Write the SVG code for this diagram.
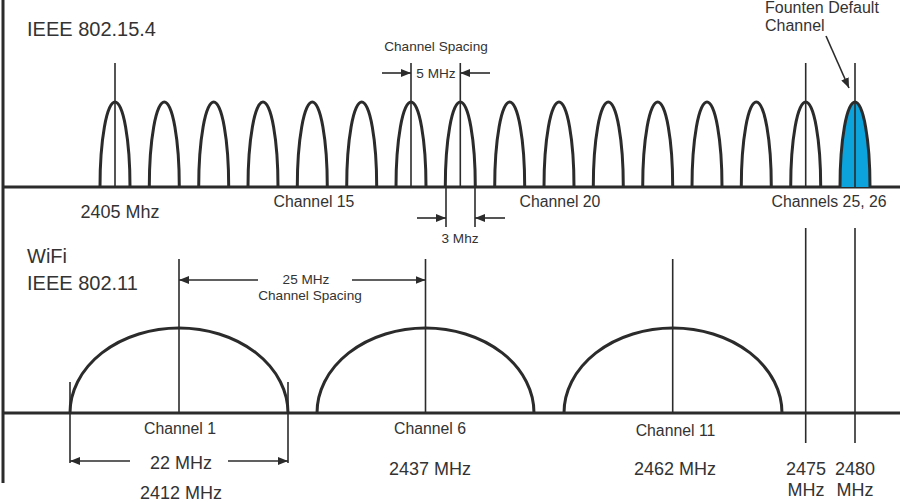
<svg xmlns="http://www.w3.org/2000/svg" width="900" height="502" viewBox="0 0 900 502">
<style>
text{font-family:"Liberation Sans",Arial,sans-serif;fill:#333;}
.big{font-size:20px;}
.freq{font-size:18px;text-anchor:middle;}
.ch{font-size:15.8px;text-anchor:middle;}
.sm{font-size:13.6px;text-anchor:middle;}
.axis{stroke:#2b2b2b;stroke-width:3;fill:none;}
.lobe{stroke:#2b2b2b;stroke-width:3;fill:none;}
.thin{stroke:#2b2b2b;stroke-width:1.6;fill:none;}
.arr{stroke:#2b2b2b;stroke-width:1.6;fill:none;marker-end:url(#ah);}
</style>
<defs>
<marker id="ah" markerUnits="userSpaceOnUse" markerWidth="10" markerHeight="8" refX="10" refY="4" orient="auto">
<path d="M0,0 L10,4 L0,8 z" fill="#2b2b2b"/>
</marker>
</defs>
<rect width="900" height="502" fill="#fff"/>
<g id="axes">
<line class="axis" x1="3" y1="0" x2="3" y2="483"/>
<line class="axis" x1="3" y1="187" x2="900" y2="187"/>
<line class="axis" x1="3" y1="413" x2="900" y2="413"/>
</g>
<g id="labels-top">
<text class="big" x="27" y="36">IEEE 802.15.4</text>
<text class="freq" x="120" y="218">2405 Mhz</text>
<text class="ch" x="314" y="207">Channel 15</text>
<text class="ch" x="560" y="207">Channel 20</text>
<text class="ch" x="829" y="207">Channels 25, 26</text>
</g>
<g id="ch11"><path class="lobe" d="M100,187 A15,85 0 0 1 130,187"/><line class="thin" x1="115" y1="63" x2="115" y2="187"/></g>
<g id="ch12"><path class="lobe" d="M149.3,187 A15,85 0 0 1 179.3,187"/></g>
<g id="ch13"><path class="lobe" d="M198.7,187 A15,85 0 0 1 228.7,187"/></g>
<g id="ch14"><path class="lobe" d="M248,187 A15,85 0 0 1 278,187"/></g>
<g id="ch15"><path class="lobe" d="M297.3,187 A15,85 0 0 1 327.3,187"/></g>
<g id="ch16"><path class="lobe" d="M346.7,187 A15,85 0 0 1 376.7,187"/></g>
<g id="ch17"><path class="lobe" d="M396,187 A15,85 0 0 1 426,187"/><line class="thin" x1="411" y1="63" x2="411" y2="187"/></g>
<g id="ch18"><path class="lobe" d="M445.3,187 A15,85 0 0 1 475.3,187"/><line class="thin" x1="460.3" y1="63" x2="460.3" y2="187"/></g>
<g id="ch19"><path class="lobe" d="M494.7,187 A15,85 0 0 1 524.7,187"/></g>
<g id="ch20"><path class="lobe" d="M544,187 A15,85 0 0 1 574,187"/></g>
<g id="ch21"><path class="lobe" d="M593.3,187 A15,85 0 0 1 623.3,187"/></g>
<g id="ch22"><path class="lobe" d="M642.7,187 A15,85 0 0 1 672.7,187"/></g>
<g id="ch23"><path class="lobe" d="M692,187 A15,85 0 0 1 722,187"/></g>
<g id="ch24"><path class="lobe" d="M741.3,187 A15,85 0 0 1 771.3,187"/></g>
<g id="ch25"><path class="lobe" d="M790.7,187 A15,85 0 0 1 820.7,187"/><line class="thin" x1="805.7" y1="63" x2="805.7" y2="187"/></g>
<g id="ch26"><path class="lobe" style="fill:#0ca3dc" d="M840,187 A15,85 0 0 1 870,187"/><line class="thin" x1="855" y1="63" x2="855" y2="187"/></g>
<g id="default-label">
<text x="765" y="13" style="font-size:16px">Founten Default</text>
<text x="765" y="31" style="font-size:16px">Channel</text>
</g>
<g id="spacing-5">
<text class="sm" x="436" y="51">Channel Spacing</text>
<text class="sm" x="436" y="78">5 MHz</text>
</g>
<g id="spacing-3">
<line class="thin" x1="446" y1="187" x2="446" y2="227"/>
<line class="thin" x1="475" y1="187" x2="475" y2="227"/>
<text class="sm" x="460" y="243">3 Mhz</text>
</g>
<g id="wifi-labels">
<text class="big" x="27" y="263">WiFi</text>
<text class="big" x="27" y="290">IEEE 802.11</text>
<text class="sm" x="306" y="284">25 MHz</text>
<text class="sm" x="310" y="300">Channel Spacing</text>
</g>
<g id="wifi1">
<path class="lobe" d="M70,413 A109,85 0 0 1 288,413"/>
<line class="thin" x1="179" y1="259" x2="179" y2="413"/>
<line class="thin" x1="70" y1="382" x2="70" y2="463"/>
<line class="thin" x1="288" y1="382" x2="288" y2="463"/>
<text class="ch" x="180" y="434">Channel 1</text>
<text class="freq" x="181" y="469">22 MHz</text>
<text class="freq" x="181" y="499">2412 MHz</text>
</g>
<g id="wifi6">
<path class="lobe" d="M317,413 A108.5,85 0 0 1 534,413"/>
<line class="thin" x1="425.5" y1="259" x2="425.5" y2="413"/>
<text class="ch" x="430" y="434">Channel 6</text>
<text class="freq" x="430" y="475">2437 MHz</text>
</g>
<g id="wifi11">
<path class="lobe" d="M564,413 A109,85 0 0 1 782,413"/>
<line class="thin" x1="672.7" y1="259" x2="672.7" y2="413"/>
<text class="ch" x="675.5" y="436">Channel 11</text>
<text class="freq" x="675" y="475">2462 MHz</text>
</g>
<g id="f2475">
<line class="thin" x1="805.7" y1="228" x2="805.7" y2="443"/>
<text class="freq" x="806" y="475">2475</text>
<text class="freq" x="806" y="496">MHz</text>
</g>
<g id="f2480">
<line class="thin" x1="855" y1="228" x2="855" y2="443"/>
<text class="freq" x="855" y="475">2480</text>
<text class="freq" x="855" y="496">MHz</text>
</g>
<g id="connectors">
<line class="arr" x1="826" y1="36" x2="849" y2="88"/>
<line class="arr" x1="382" y1="73" x2="411" y2="73"/>
<line class="arr" x1="490" y1="73" x2="460.3" y2="73"/>
<line class="arr" x1="417" y1="218" x2="446" y2="218"/>
<line class="arr" x1="505" y1="218" x2="475" y2="218"/>
<line class="arr" x1="258" y1="280" x2="179" y2="280"/>
<line class="arr" x1="352" y1="280" x2="425.5" y2="280"/>
<line class="arr" x1="130" y1="461" x2="70" y2="461"/>
<line class="arr" x1="228" y1="461" x2="288" y2="461"/>
</g>
</svg>
